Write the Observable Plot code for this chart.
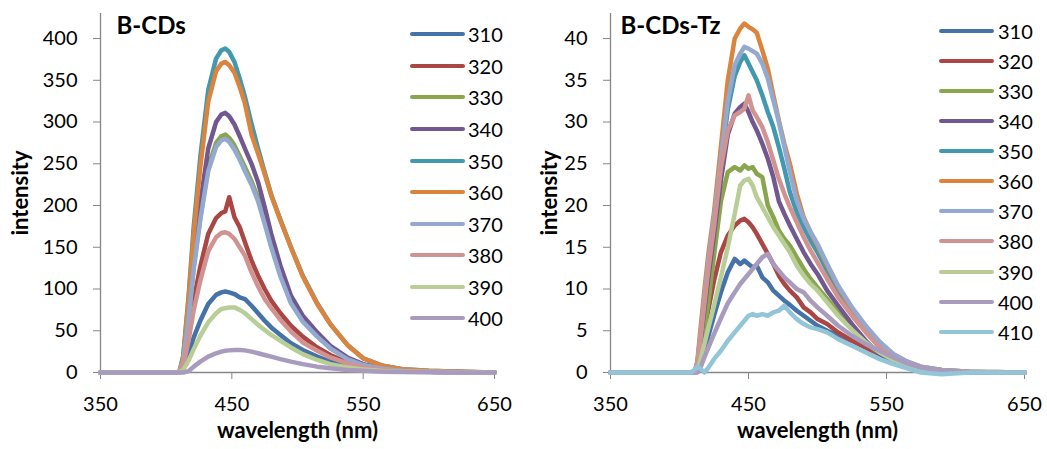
<!DOCTYPE html>
<html>
<head>
<meta charset="utf-8">
<script src="https://cdn.jsdelivr.net/npm/d3@7"></script>
<script src="https://cdn.jsdelivr.net/npm/@observablehq/plot@0.6"></script>
<style>
  body { margin: 0; background: #fff; }
  #chart { position: relative; width: 1047px; height: 449px; font-family: Lato, "Open Sans", sans-serif; }
  .panel { position: absolute; top: 0; }
  .key { position: absolute; height: 4px; border-radius: 2px; }
  .lab { position: absolute; font-size: 20px; line-height: 20px; color: #000; }
</style>
</head>
<body>
<div id="chart"></div>
<script>
// Excitation wavelengths (nm) and their line colours
const excitation = ["310", "320", "330", "340", "350", "360", "370", "380", "390", "400", "410"];
const palette = ["#4572A7", "#AA4643", "#89A54E", "#71588F", "#4198AF", "#DB843D",
                 "#93A9CF", "#D19392", "#B9CD96", "#A99BBD", "#92C5D8"];
const xTicks = [350, 450, 550, 650];
const yTicksCDs = [0, 50, 100, 150, 200, 250, 300, 350, 400];
const yTicksTz = [0, 5, 10, 15, 20, 25, 30, 35, 40];

// B-CDs emission spectra: wavelength grid and intensity per excitation
const wlCDs = [350, 405, 410, 413, 417, 421, 426, 432, 438, 442, 445, 448, 452, 456, 460, 465, 470, 475, 480, 487, 495, 504, 515, 525, 538, 550, 565, 580, 600, 625, 650];
const cds310 = [0,0,0,5,22,42,62,82,93,96,97,96,94,90,88,80,71,62,54,45,35,27,19,13,8,5,2.5,1.5,0.8,0.3,0];
const cds320 = [0,0,0,10,44,87,127,166,185,191,193,210,186,174,156,134,116,100,86,71,56,43,30,21,12,7,3.5,2,1,0.5,0];
const cds330 = [0,0,0,14,64,127,186,246,275,283,285,281,272,259,246,229,209,182,152,117,84,62,44,29,17,9,4.5,2,1,0.4,0];
const cds340 = [0,0,0,15,70,138,203,268,300,309,311,307,297,283,268,250,228,198,166,128,92,68,48,32,18,10,5,2.5,1,0.4,0];
const cds350 = [0,0,0,20,90,175,258,338,376,386,388,384,372,352,330,298,268,240,213,183,150,116,83,58,33,17,8,4,2,1,0];
const cds360 = [0,0,0,19,86,167,246,324,361,370,372,368,359,342,322,285,262,238,212,182,150,115,82,58,33,17,8,4,2,1,0];
const cds370 = [0,0,0,13,63,124,183,241,270,278,280,276,267,255,241,225,205,178,150,115,83,61,43,29,16,9,4.5,2,1,0.4,0];
const cds380 = [0,0,0,8,38,75,110,145,162,167,168,166,160,150,140,120,103,88,77,63,49,36,26,18,11,6,3,1.5,0.8,0.3,0];
const cds390 = [0,0,0,3,14,28,44,60,71,76,77,78,78,75,71,64,57,51,45,38,30,22,15,10,6,3.5,1.8,1,0.5,0.2,0];
const cds400 = [0,0,0,0,1.5,7,13,19,23,25,26,26.5,27,27,26.5,25,23,21,19,16,13,10,7,5,3,2,1,0.5,0.2,0,0];

// B-CDs-Tz emission spectra
const wlTz = [350, 408, 411, 413, 415, 418, 421, 425, 430, 435, 440, 444, 447, 450, 453, 456, 460, 464, 468, 472, 476, 480, 485, 490, 495, 500, 507, 515, 525, 535, 545, 555, 565, 575, 590, 610, 630, 650];
const tz310 = [0,0,0,0.6,1.5,2.8,4.4,6.8,9.6,12,13.6,13,13.4,13,12.6,12.8,11.4,10.8,9.8,9.2,8.6,8.1,7.4,6.8,6.2,5.6,5,4.4,3.8,3,2.2,1.4,0.7,0.2,0,0,0,0];
const tz320 = [0,0,0,0.8,2.5,5,7.6,11,14.4,16.4,17.6,18.2,18.4,18,17.4,16.6,15.4,14.2,13,11.6,10.6,9.8,9,7.8,7.2,6.4,5.8,4.8,3.8,3,2.2,1.4,0.8,0.4,0.1,0,0,0];
const tz330 = [0,0,0,0.6,2,5,8.5,14,20.5,24,24.6,24.2,24.8,24.4,24.6,23.8,23.4,20,18.6,17,16,15.2,13.8,12.4,11.2,10.2,8.8,7.2,5.4,3.6,2.2,1.3,0.7,0.3,0.1,0,0,0];
const tz340 = [0,0,0,1,3.5,7.5,11.5,16.5,23,28.5,31,31.8,32.2,31.2,30,29,27.4,25.6,23.4,20.5,19,17.6,16,14.4,13,11.8,9.8,8,5.8,3.8,2.2,1.3,0.7,0.3,0.1,0,0,0];
const tz350 = [0,0,0,1.2,4,8.6,13,18,25,31.5,35.5,37.2,38,37,36,35,33.2,31.2,29.4,27,24.4,21.6,19.2,17.4,15.8,14.4,12.2,9.6,7.2,5.2,3.4,2,1.2,0.6,0.3,0.1,0,0];
const tz360 = [0,0,0,1.4,4.9,9.8,14.3,19.2,27,35,40,41.2,41.8,41.4,41.1,40.7,38.6,36.4,33.2,30.2,27.4,25,21.4,18.6,16.8,15.2,12.8,10.2,7.6,5.4,3.6,2.2,1.3,0.7,0.3,0.1,0.05,0];
const tz370 = [0,0,0,1.2,4.2,9,13.5,18.5,25.5,32.5,36.8,38.2,39,38.8,38.5,38.2,37,35.2,32.6,30,27,24,20.6,18.4,16.8,15.4,13,10.4,7.8,5.6,3.7,2.2,1.3,0.7,0.3,0.1,0.05,0];
const tz380 = [0,0,0,1,3.8,8.2,12.5,17.5,24.5,29,30.8,31.2,31.6,33.2,31.4,30.6,29.4,27.6,25.4,23.2,21.4,19.8,18,16.2,14.6,13.2,11.2,9,6.8,4.8,3,1.8,1,0.5,0.2,0.1,0,0];
const tz390 = [0,0,0,0.3,1.4,3.4,5.4,8,11.4,15,19,22.4,23,23.2,22.4,21,19.8,18.6,17.4,16.4,15.4,14.4,12.8,11.6,10.6,9.8,8.4,6.8,5.1,3.6,2.4,1.5,0.8,0.4,0.1,0,0,0];
const tz400 = [0,0,0,0,0.5,1.8,3,4.6,6.5,8.3,9.6,10.6,11.2,11.8,12.4,13,13.8,14.2,13,12.2,11.4,10.8,10,9.6,8.6,7.8,6.8,5.6,4.4,3.4,2.6,1.8,1.1,0.6,0.2,0,0,0];
const tz410 = [0,0,0.3,0.7,0.5,0,0.6,1.6,2.6,3.8,4.8,5.6,6.2,6.8,7,6.8,7,6.8,7.2,7.4,8,7.2,6.4,5.8,5.4,5.2,4.8,4,3.2,2.4,1.6,1,0.5,0,-0.2,0,0,0];

const seriesCDs = [cds310, cds320, cds330, cds340, cds350, cds360, cds370, cds380, cds390, cds400];
const seriesTz = [tz310, tz320, tz330, tz340, tz350, tz360, tz370, tz380, tz390, tz400, tz410];

const axisGrey = "#868686";

function toRows(wl, series) {
  const rows = [];
  series.forEach((vals, s) => vals.forEach((v, i) => rows.push({ex: excitation[s], wl: wl[i], v})));
  return rows;
}

function spectraPanel({wl, series, yMax, yTicks, title, width, marginLeft, marginRight, yLabelDx, titleDx}) {
  return Plot.plot({
    width,
    height: 449,
    marginLeft,
    marginRight,
    marginTop: 13,
    marginBottom: 77,
    style: {fontFamily: "Lato, 'Open Sans', sans-serif", fontSize: "20px", color: "#000", background: "#fff"},
    x: {domain: [350, 650]},
    y: {domain: [0, yMax]},
    color: {type: "ordinal", domain: excitation, range: palette},
    marks: [
      Plot.ruleX([350], {stroke: axisGrey, strokeWidth: 1.3}),
      Plot.ruleY([0], {stroke: axisGrey, strokeWidth: 1.3}),
      Plot.axisX(xTicks, {tickSize: 7, tickPadding: 17, stroke: axisGrey, label: null, fontSize: 20}),
      Plot.axisY(yTicks, {tickSize: 7, tickPadding: 16, stroke: axisGrey, label: null, fontSize: 20}),
      Plot.line(toRows(wl, series), {
        x: "wl", y: "v", z: "ex", stroke: "ex",
        strokeWidth: 4.5, strokeLinejoin: "round", strokeLinecap: "round"
      }),
      Plot.text([title], {
        text: d => d, frameAnchor: "top-left", textAnchor: "start", lineAnchor: "bottom",
        dx: titleDx, dy: 20, fontWeight: "bold", fontSize: 24
      }),
      Plot.text(["intensity"], {
        text: d => d, frameAnchor: "left", textAnchor: "middle", lineAnchor: "middle",
        rotate: -90, dx: yLabelDx, fontWeight: "bold", fontSize: 22
      }),
      Plot.text(["wavelength (nm)"], {
        text: d => d, frameAnchor: "bottom", textAnchor: "middle", lineAnchor: "bottom",
        dy: 65, fontWeight: "bold", fontSize: 22
      })
    ]
  });
}

function legend(container, labels, {lineLeft, lineWidth, textLeft, top, step}) {
  labels.forEach((lab, i) => {
    const y = top + i * step;
    const key = document.createElement("div");
    key.className = "key";
    key.style.left = lineLeft + "px";
    key.style.width = lineWidth + "px";
    key.style.top = (y - 2) + "px";
    key.style.background = palette[excitation.indexOf(lab)];
    container.appendChild(key);
    const t = document.createElement("div");
    t.className = "lab";
    t.style.left = textLeft + "px";
    t.style.top = (y - 10) + "px";
    t.textContent = lab;
    container.appendChild(t);
  });
}

const chart = document.getElementById("chart");

const left = spectraPanel({
  wl: wlCDs, series: seriesCDs, yMax: 430, yTicks: yTicksCDs, title: "B-CDs",
  width: 527, marginLeft: 100, marginRight: 33, yLabelDx: -80, titleDx: 16
});
left.classList.add("panel");
left.style.left = "0px";
chart.appendChild(left);

const right = spectraPanel({
  wl: wlTz, series: seriesTz, yMax: 43, yTicks: yTicksTz, title: "B-CDs-Tz",
  width: 520, marginLeft: 83, marginRight: 23, yLabelDx: -61, titleDx: 10
});
right.classList.add("panel");
right.style.left = "527px";
chart.appendChild(right);

legend(chart, excitation.slice(0, 10), {lineLeft: 410, lineWidth: 55, textLeft: 468, top: 34.3, step: 31.56});
legend(chart, excitation, {lineLeft: 939, lineWidth: 55, textLeft: 998, top: 31, step: 30.07});
</script>
</body>
</html>
